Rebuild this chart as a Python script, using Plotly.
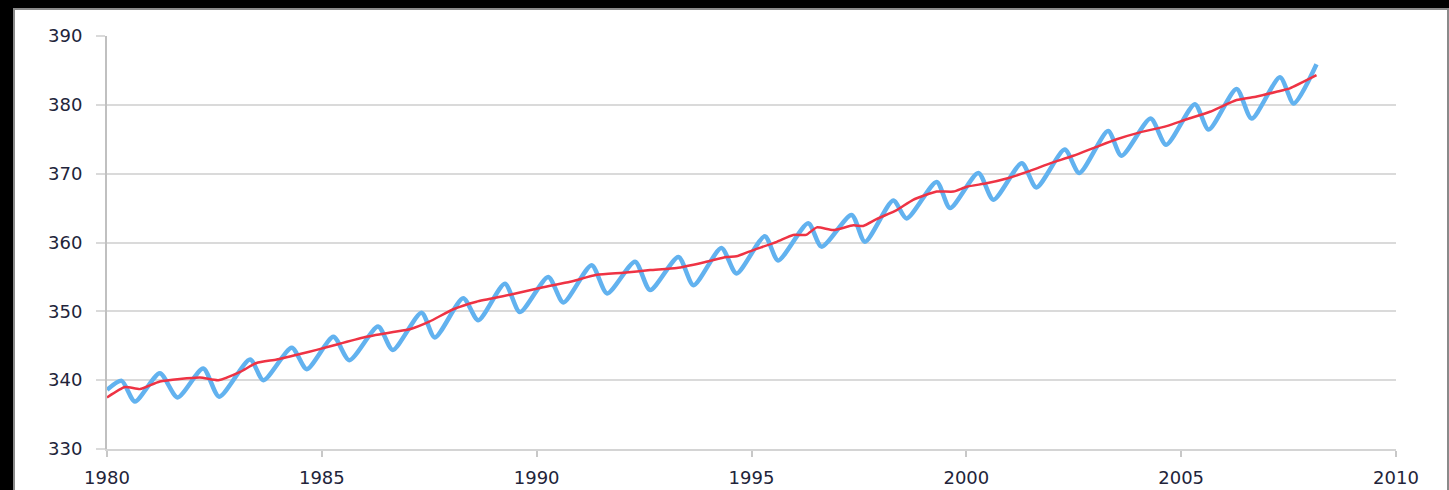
import plotly.graph_objects as go

# Monthly CO2 concentration (ppm): seasonal cycle, sampled at peaks and troughs
co2_time = [
    1980.00, 1980.34, 1980.65, 1981.23, 1981.64, 1982.24, 1982.61, 1983.33, 1983.64,
    1984.30, 1984.65, 1985.27, 1985.64, 1986.31, 1986.65, 1987.32, 1987.63, 1988.29,
    1988.64, 1989.26, 1989.61, 1990.27, 1990.62, 1991.28, 1991.64, 1992.29, 1992.64,
    1993.30, 1993.65, 1994.30, 1994.65, 1995.31, 1995.62, 1996.32, 1996.63, 1997.33,
    1997.64, 1998.30, 1998.61, 1999.31, 1999.62, 2000.28, 2000.63, 2001.29, 2001.63,
    2002.29, 2002.63, 2003.30, 2003.61, 2004.29, 2004.65, 2005.32, 2005.64, 2006.29,
    2006.64, 2007.30, 2007.62, 2008.15,
]
co2_ppm = [
    338.6, 339.9, 336.9, 341.0, 337.5, 341.7, 337.6, 343.0, 340.0,
    344.7, 341.6, 346.3, 342.9, 347.8, 344.4, 349.8, 346.2, 351.9,
    348.7, 354.0, 349.9, 355.0, 351.3, 356.7, 352.6, 357.2, 353.1,
    357.9, 353.8, 359.2, 355.5, 360.9, 357.4, 362.8, 359.4, 364.0,
    360.1, 366.1, 363.5, 368.8, 365.0, 370.1, 366.2, 371.5, 368.0,
    373.5, 370.1, 376.2, 372.6, 378.0, 374.2, 380.1, 376.4, 382.3,
    378.0, 384.0, 380.2, 385.9,
]

# Seasonally adjusted trend (ppm)
trend_time = [
    1980.00, 1980.42, 1980.77, 1981.23, 1982.16, 1982.59, 1983.10, 1983.48, 1983.95,
    1984.49, 1984.88, 1985.42, 1986.04, 1986.66, 1987.05, 1987.50, 1988.06, 1988.60,
    1989.38, 1990.15, 1990.78, 1991.40, 1992.02, 1992.64, 1993.26, 1993.88, 1994.42,
    1994.65, 1995.04, 1995.59, 1995.97, 1996.27, 1996.52, 1996.90, 1997.37, 1997.60,
    1997.91, 1998.38, 1998.76, 1999.31, 1999.70, 2000.01, 2000.47, 2000.94, 2001.48,
    2001.95, 2002.49, 2003.03, 2003.50, 2004.04, 2004.66, 2005.13, 2005.67, 2006.29,
    2006.76, 2007.22, 2007.53, 2008.15,
]
trend_ppm = [
    337.5, 339.0, 338.7, 339.8, 340.4, 340.0, 341.2, 342.5, 343.0,
    343.8, 344.4, 345.3, 346.3, 347.0, 347.4, 348.5, 350.3, 351.4,
    352.4, 353.5, 354.3, 355.3, 355.6, 356.0, 356.3, 357.1, 357.9,
    358.0, 358.9, 360.1, 361.1, 361.1, 362.2, 361.8, 362.5, 362.4,
    363.4, 364.7, 366.2, 367.4, 367.4, 368.1, 368.6, 369.3, 370.4,
    371.5, 372.6, 373.9, 375.0, 376.0, 376.9, 377.9, 379.0, 380.7,
    381.2, 381.9, 382.4, 384.3,
]

x_ticks = [1980, 1985, 1990, 1995, 2000, 2005, 2010]
y_ticks = [330, 340, 350, 360, 370, 380, 390]

W, H = 1449, 490
L, R, T, B = 107, 53, 36, 41
pw, ph = W - L - R, H - T - B


def px_x(p):
    return (p - L) / pw


def px_y(p):
    return 1 - (p - T) / ph


fig = go.Figure()

fig.add_trace(go.Scatter(
    x=co2_time, y=co2_ppm, mode="lines",
    line=dict(color="#62b2ef", width=4.5, shape="spline", smoothing=0.7),
    hoverinfo="skip", showlegend=False,
))
fig.add_trace(go.Scatter(
    x=trend_time, y=trend_ppm, mode="lines",
    line=dict(color="#ee3344", width=2.5, shape="spline", smoothing=0.5),
    hoverinfo="skip", showlegend=False,
))

# white chart panel with thin grey frame on the black background
fig.add_shape(
    type="rect", xref="paper", yref="paper", layer="below",
    x0=px_x(14), x1=px_x(1448), y0=px_y(9), y1=px_y(500),
    fillcolor="white", line=dict(color="#8a8a8a", width=2),
)

tick_font = dict(family="DejaVu Sans, Verdana, sans-serif", size=18, color="#22243a")

fig.update_layout(
    width=W, height=H,
    margin=dict(l=L, r=R, t=T, b=B, pad=0, autoexpand=False),
    paper_bgcolor="black",
    plot_bgcolor="white",
    xaxis=dict(
        range=[1980, 2010], tickvals=x_ticks, ticktext=[str(v) for v in x_ticks],
        showgrid=False, zeroline=False, automargin=False,
        showline=True, linecolor="#d4d4d4", linewidth=2,
        ticks="outside", ticklen=6, tickcolor="#c8c8c8", tickwidth=1.5,
        tickfont=tick_font, ticklabelstandoff=5,
    ),
    yaxis=dict(
        range=[330, 390], tickvals=y_ticks, ticktext=[str(v) for v in y_ticks],
        showgrid=True, gridcolor="#dadada", gridwidth=2,
        zeroline=False, automargin=False,
        showline=True, linecolor="#c0c0c0", linewidth=2,
        ticks="outside", ticklen=9, tickcolor="#dadada", tickwidth=2,
        tickfont=tick_font, ticklabelstandoff=10,
    ),
)

fig.write_html("out.html")
